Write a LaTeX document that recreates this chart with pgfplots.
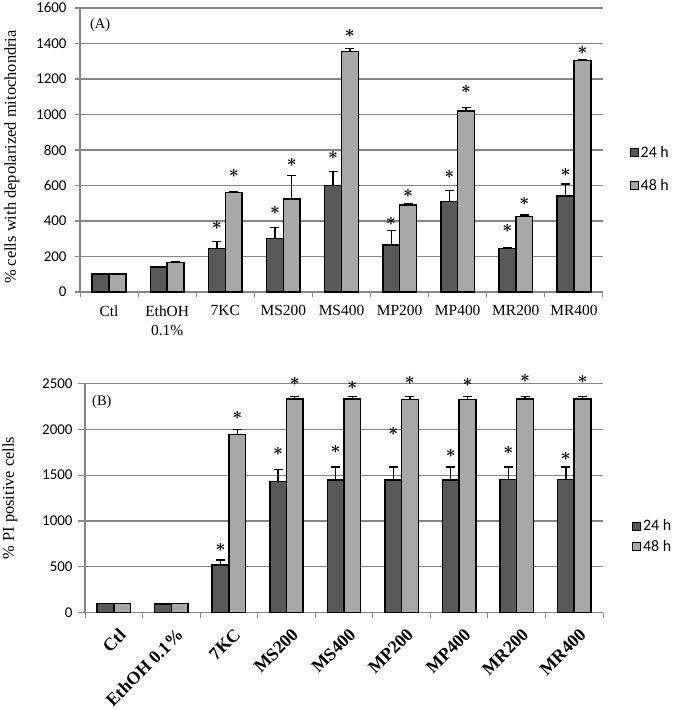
\documentclass[border=0pt]{standalone}
\usepackage{fontspec}
\setmainfont{Liberation Serif}
\newfontfamily\calfont{Carlito}
\usepackage{pgfplots}
\pgfplotsset{compat=1.18}
\definecolor{darkbar}{RGB}{89,89,89}
\definecolor{lightbar}{RGB}{168,168,168}
\definecolor{gridc}{RGB}{134,134,134}
\pgfplotsset{
 myaxis/.style={
  scale only axis,
  xmin=-0.5, xmax=8.5, ymin=0,
  axis x line*=bottom, axis y line*=left,
  axis line style={gridc, line width=1.2bp, -},
  ymajorgrids, grid style={gridc, line width=1.2bp},
  xtick={0,...,8},
  minor xtick={-0.5,0.5,...,8.5},
  major x tick style={draw=none},
  minor x tick style={gridc, line width=1bp},
  minor tick length=5bp,
  y tick style={gridc, line width=1.2bp},
  tick align=outside,
  scaled y ticks=false,
  yticklabel style={font=\calfont\fontsize{15}{18}\selectfont, /pgf/number format/assume math mode=true, /pgf/number format/1000 sep={}},
  clip=false,
  legend cell align=left,
  legend image code/.code={\draw[##1, draw=black, line width=1bp] (0bp,-4bp) rectangle (8bp,4bp);},
 },
 barA/.style={ybar, bar shift=0pt, bar width=0.29, draw=black, line width=1.5bp,
   error bars/y dir=plus, error bars/y explicit, error bars/error mark=|,
   error bars/error bar style={black,line width=1.3bp},
   error bars/error mark options={black, line width=1.3bp, mark size=4.5bp}},
 star/.style={only marks, mark=text, text mark={\fontsize{17}{17}\selectfont\boldmath$\ast$}, forget plot},
}
\begin{document}
\begin{tikzpicture}
\path[use as bounding box] (0,0) rectangle (674bp,710bp);
% ---------------- Panel A
\begin{axis}[myaxis,
  at={(80bp,418bp)}, anchor=south west,
  width=523bp, height=284bp,
  ymax=1600, ytick={0,200,...,1600},
  major tick length=5bp,
  yticklabel style={xshift=-5bp},
  xticklabels={Ctl,{EthOH\\0.1\%},7KC,MS200,MS400,MP200,MP400,MR200,MR400},
  xticklabel style={align=center, yshift=-5bp, font=\fontsize{15.5}{19}\selectfont},
  ylabel={\% cells with depolarized mitochondria},
  every axis y label/.style={at={(axis description cs:0,0.475)}, xshift=-68bp, rotate=90, anchor=center, font=\fontsize{16.5}{19}\selectfont},
  legend style={draw=none, fill=none, at={(axis description cs:1.045,0.433)}, anchor=west, font=\calfont\fontsize{16}{19}\selectfont, row sep=17bp},
]
\addplot[barA, fill=darkbar] coordinates {
 (-0.145,100) +- (0,0)
 (0.855,140) +- (0,4)
 (1.855,245) +- (0,40)
 (2.855,300) +- (0,65)
 (3.855,600) +- (0,78)
 (4.855,265) +- (0,80)
 (5.855,510) +- (0,60)
 (6.855,245) +- (0,5)
 (7.855,540) +- (0,68)
};
\addlegendentry{24 h}
\addplot[barA, fill=lightbar] coordinates {
 (0.145,100) +- (0,0)
 (1.145,165) +- (0,6)
 (2.145,560) +- (0,3)
 (3.145,525) +- (0,130)
 (4.145,1355) +- (0,17)
 (5.145,490) +- (0,5)
 (6.145,1020) +- (0,18)
 (7.145,425) +- (0,8)
 (8.145,1305) +- (0,5)
};
\addlegendentry{48 h}
\addplot[star] coordinates {
 (1.855,377) (2.145,670)
 (2.855,462) (3.145,732)
 (3.855,768) (4.145,1459)
 (4.855,400) (5.145,556)
 (5.855,665) (6.145,1142)
 (6.855,359) (7.145,513)
 (7.855,672) (8.145,1363)
};
\node[anchor=west, font=\fontsize{14.5}{17}\selectfont, inner sep=0pt] at (axis description cs:0.019,0.94) {(A)};
\end{axis}
% ---------------- Panel B
\begin{axis}[myaxis,
  at={(85bp,97.3bp)}, anchor=south west,
  width=518bp, height=229.3bp,
  ymax=2500, ytick={0,500,...,2500},
  major tick length=7bp,
  yticklabel style={xshift=-2bp},
  xticklabels={Ctl,EthOH 0.1\%,7KC,MS200,MS400,MP200,MP400,MR200,MR400},
  xticklabel style={rotate=45, anchor=north east, yshift=-5bp, xshift=1bp, font=\bfseries\fontsize{18}{20}\selectfont},
  ylabel={\% PI positive cells},
  every axis y label/.style={at={(axis description cs:0,0.5)}, xshift=-75bp, rotate=90, anchor=center, font=\fontsize{16.5}{19}\selectfont},
  legend style={draw=none, fill=none, at={(axis description cs:1.05,0.333)}, anchor=west, font=\calfont\fontsize{16}{19}\selectfont, row sep=4bp},
]
\addplot[barA, fill=darkbar] coordinates {
 (-0.145,100) +- (0,0)
 (0.855,95) +- (0,3)
 (1.855,520) +- (0,55)
 (2.855,1430) +- (0,130)
 (3.855,1445) +- (0,145)
 (4.855,1445) +- (0,145)
 (5.855,1445) +- (0,145)
 (6.855,1450) +- (0,140)
 (7.855,1450) +- (0,140)
};
\addlegendentry{24 h}
\addplot[barA, fill=lightbar] coordinates {
 (0.145,100) +- (0,0)
 (1.145,100) +- (0,0)
 (2.145,1945) +- (0,55)
 (3.145,2330) +- (0,30)
 (4.145,2330) +- (0,30)
 (5.145,2325) +- (0,30)
 (6.145,2325) +- (0,30)
 (7.145,2330) +- (0,30)
 (8.145,2330) +- (0,30)
};
\addlegendentry{48 h}
\addplot[star] coordinates {
 (1.855,713) (2.145,2156)
 (2.855,1756) (3.145,2519)
 (3.855,1782) (4.145,2483)
 (4.855,1974) (5.145,2527)
 (5.855,1738) (6.145,2512)
 (6.855,1774) (7.145,2549)
 (7.855,1709) (8.145,2545)
};
\node[anchor=west, font=\fontsize{14.5}{17}\selectfont, inner sep=0pt] at (axis description cs:0.0135,0.919) {(B)};
\end{axis}
\end{tikzpicture}
\end{document}
